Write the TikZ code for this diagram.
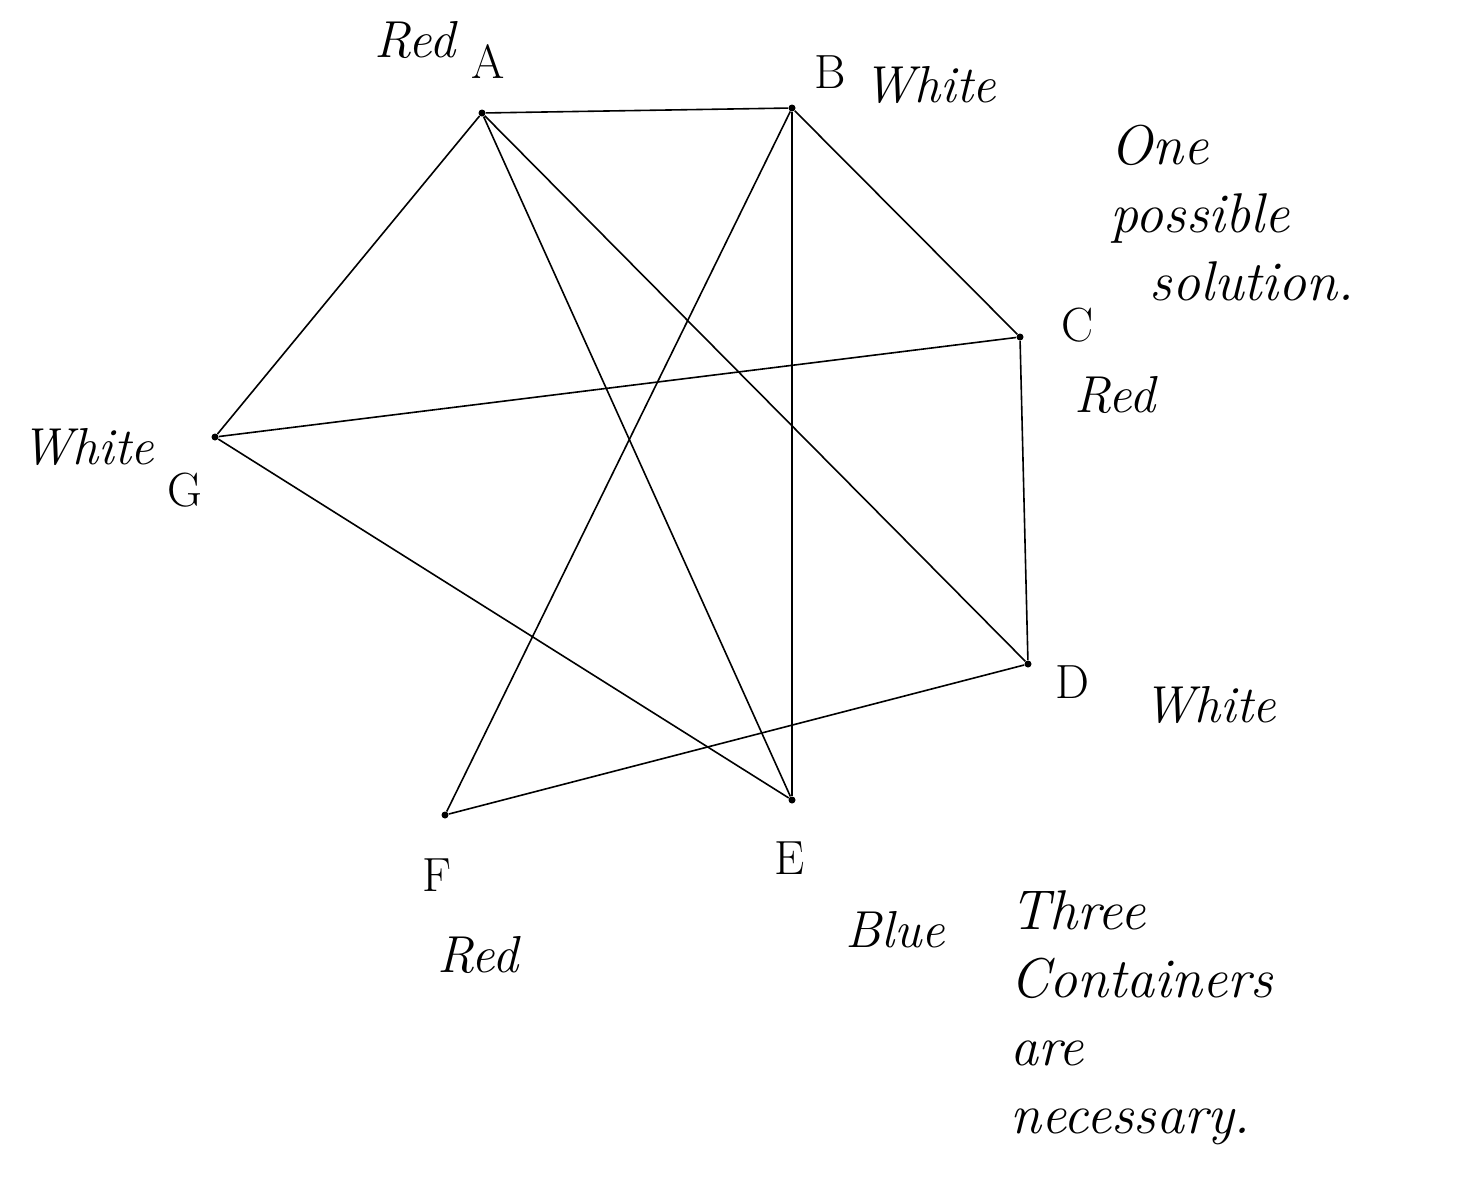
\documentclass[tikz,border=0pt]{standalone}
\begin{document}
\begin{tikzpicture}[x=0.5pt,y=-0.5pt,
  vtx/.style={circle,fill=black,inner sep=0pt,minimum size=3.5pt},
  lbl/.style={inner sep=0pt,font=\fontsize{26}{30}\selectfont\itshape},
  letter/.style={inner sep=0pt,font=\fontsize{24}{28}\selectfont},
  note/.style={inner sep=0pt,align=left,font=\fontsize{28}{34}\selectfont\itshape},
  edge/.style={line width=0.8pt}]
\useasboundingbox[fill=white] (0,0) rectangle (1484,1185);
\node[vtx] (A) at (482,113) {};
\node[vtx] (B) at (792,108) {};
\node[vtx] (C) at (1020,337) {};
\node[vtx] (D) at (1028,664) {};
\node[vtx] (E) at (792,800) {};
\node[vtx] (F) at (445,815) {};
\node[vtx] (G) at (215,437) {};
\draw[edge] (A) -- (B);
\draw[edge] (A) -- (G);
\draw[edge] (A) -- (E);
\draw[edge] (A) -- (D);
\draw[edge] (B) -- (E);
\draw[edge] (B) -- (F);
\draw[edge] (B) -- (C);
\draw[edge] (C) -- (D);
\draw[edge] (C) -- (G);
\draw[edge] (G) -- (E);
\draw[edge] (F) -- (D);
% letters
\node[letter] (la) at (488,62) {A};
\node[letter] (lb) at (830,72) {B};
\node[letter] (lc) at (1078,325) {C};
\node[letter] (ld) at (1072,682) {D};
\node[letter] (le) at (790,858) {E};
\node[letter] (lf) at (437,875) {F};
\node[letter] (lg) at (185,490) {G};
% colours
\node[lbl] (ca) at (415,40) {Red};
\node[lbl] (cb) at (930,85) {White};
\node[lbl] (cc) at (1115,395) {Red};
\node[lbl] (cd) at (1210,705) {White};
\node[lbl] (ce) at (895,930) {Blue};
\node[lbl] (cf) at (478,955) {Red};
\node[lbl] (cg) at (88,447) {White};
% notes
\node[note,anchor=north west] (n1) at (1110,125) {One\\possible\\\ \ solution.};
\node[note,anchor=north west] (n2) at (1010,890) {Three\\Containers\\are\\necessary.};
\end{tikzpicture}
\end{document}
